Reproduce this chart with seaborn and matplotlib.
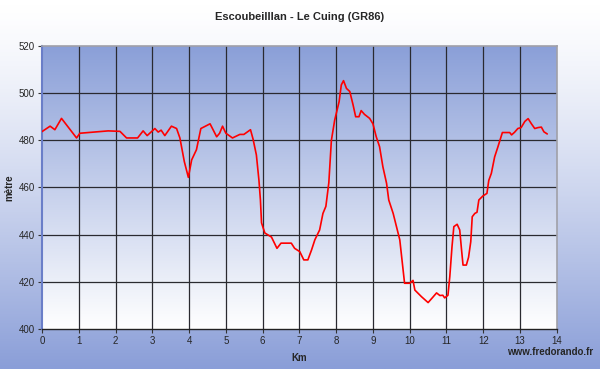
import matplotlib
matplotlib.use("Agg")
import matplotlib.pyplot as plt
import numpy as np
import pandas as pd
import seaborn as sns
from matplotlib.colors import LinearSegmentedColormap

# Elevation profile
km = [0, 0.22, 0.35, 0.53, 0.94, 1.03, 1.8, 2.12, 2.3, 2.6, 2.75, 2.86, 3.07, 3.16,
      3.24, 3.34, 3.52, 3.66, 3.75, 3.87, 3.98, 4.07, 4.2, 4.32, 4.57, 4.75, 4.83,
      4.91, 5.0, 5.18, 5.38, 5.49, 5.67, 5.74, 5.83, 5.9, 5.94, 5.97, 6.06, 6.24,
      6.39, 6.5, 6.78, 6.87, 7.01, 7.12, 7.23, 7.33, 7.42, 7.55, 7.64, 7.72, 7.8,
      7.87, 7.96, 8.08, 8.14, 8.2, 8.28, 8.37, 8.46, 8.53, 8.62, 8.68, 8.77, 8.91,
      9.0, 9.09, 9.18, 9.27, 9.37, 9.43, 9.55, 9.64, 9.73, 9.79, 9.86, 10.0, 10.09,
      10.14, 10.32, 10.5, 10.63, 10.73, 10.82, 10.9, 10.95, 11.04, 11.09, 11.15,
      11.2, 11.29, 11.36, 11.41, 11.45, 11.54, 11.6, 11.66, 11.7, 11.77, 11.83,
      11.88, 11.99, 12.1, 12.15, 12.22, 12.31, 12.4, 12.52, 12.72, 12.77, 12.85,
      12.94, 13.03, 13.13, 13.22, 13.31, 13.4, 13.49, 13.58, 13.65, 13.74]
altitude = [483.7, 486, 484.5, 489.3, 481, 483, 484, 483.8, 481, 481, 484, 482, 485,
            483.5, 484.3, 482, 486, 485, 481, 471, 464.3, 471.7, 476, 485, 487, 481.5,
            483, 486, 483, 481, 482.5, 482.5, 484.5, 480.5, 473.8, 463, 454.7, 445,
            440.7, 439, 434.2, 436.4, 436.4, 434.2, 432.8, 429.3, 429.3, 433.5, 437.8,
            442, 449, 452, 462, 480, 488.6, 496.4, 503.5, 505.3, 502, 500.7, 495, 490,
            490, 492.6, 491, 489.3, 487, 481.5, 477.3, 468.8, 461.8, 454.7, 449, 443.4,
            437.8, 429.3, 419.4, 419.4, 420.6, 416.5, 413.7, 411.2, 413.5, 415.3,
            414.2, 414.3, 413.2, 414.3, 422.2, 434.9, 443.4, 444.4, 442, 433.5, 427.1,
            427.1, 430.4, 437, 447.6, 449, 449.5, 454.7, 456.4, 457.5, 463, 466, 473,
            477.3, 483.3, 483.3, 482.3, 483.4, 485, 485.4, 488, 489.2, 487, 485, 485.4,
            485.6, 483.6, 482.7]

x_ticks = list(range(0, 15))
y_ticks = [400, 420, 440, 460, 480, 500, 520]

df = pd.DataFrame({"km": km, "altitude": altitude})

sns.set_style("white")
plt.rcParams["font.family"] = ["Liberation Sans", "DejaVu Sans"]

fig = plt.figure(figsize=(6, 3.69), dpi=100)

# figure background: white at top fading to blue at bottom
bg = fig.add_axes([0, 0, 1, 1], zorder=-2)
grad = np.linspace(0, 1, 256).reshape(-1, 1) ** 1.3
bg_cmap = LinearSegmentedColormap.from_list("bg", ["#ffffff", "#8a9ed8"])
bg.imshow(grad, aspect="auto", cmap=bg_cmap, extent=[0, 1, 0, 1], origin="upper")
bg.axis("off")

ax = fig.add_axes([0.07, 0.1084, 0.858, 0.767])
ax.set_xlim(0, 14)
ax.set_ylim(400, 520)

# plot-area gradient: blue at top fading to white at bottom
pa_cmap = LinearSegmentedColormap.from_list("pa", ["#8a9fd8", "#ffffff"])
ax.imshow(np.linspace(0, 1, 256).reshape(-1, 1), aspect="auto", cmap=pa_cmap,
          extent=[0, 14, 400, 520], origin="upper", zorder=0)

for v in x_ticks[1:-1]:
    ax.axvline(v, color="#2a2a30", lw=0.9, zorder=1)
for h in y_ticks[1:-1]:
    ax.axhline(h, color="#2a2a30", lw=0.9, zorder=1)

sns.lineplot(data=df, x="km", y="altitude", ax=ax, color="#ff0000", lw=1.2, zorder=3)

ax.set_xticks(x_ticks)
ax.set_yticks(y_ticks)
ax.tick_params(axis="both", labelsize=7, length=3, width=0.8, direction="out",
               color="#333333", pad=2)
ax.xaxis.set_ticks_position("bottom")
ax.yaxis.set_ticks_position("left")
ax.set_xlabel("Km", fontsize=7, fontweight="bold")
ax.set_ylabel("mètre", fontsize=7, fontweight="bold")
ax.xaxis.set_label_coords(0.5, -0.085)
ax.yaxis.set_label_coords(-0.054, 0.5)

for side in ["top", "right"]:
    ax.spines[side].set_color("#a0a0a8")
    ax.spines[side].set_linewidth(1.2)
ax.spines["left"].set_color("#6a7ec8")
ax.spines["left"].set_linewidth(1.5)
ax.spines["bottom"].set_color("#222222")
ax.spines["bottom"].set_linewidth(1.0)

fig.text(0.5, 0.955, "Escoubeilllan - Le Cuing (GR86)", ha="center", va="center",
         fontsize=8, fontweight="bold")
fig.text(0.988, 0.045, "www.fredorando.fr", ha="right", va="center",
         fontsize=7, fontweight="bold")

fig.savefig("out.png", dpi=100)
